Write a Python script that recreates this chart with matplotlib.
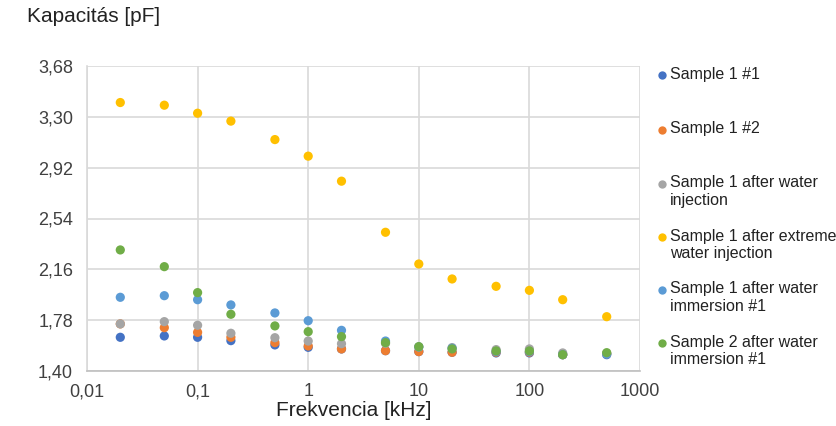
import numpy as np
import matplotlib.pyplot as plt
from matplotlib.lines import Line2D
from matplotlib.ticker import FuncFormatter, FixedLocator

plt.rcParams['font.family'] = ['Liberation Sans', 'DejaVu Sans']

# frequency [kHz]
freq = [0.02, 0.05, 0.1, 0.2, 0.5, 1, 2, 5, 10, 20, 50, 100, 200, 500]

# capacitance [pF] per series
s1_1 = [1.652, 1.662, 1.652, 1.627, 1.595, 1.577, 1.565, 1.552, 1.545, 1.540, 1.535, 1.535, 1.522, 1.522]
s1_2 = [1.752, 1.724, 1.689, 1.652, 1.612, 1.587, 1.565, 1.552, 1.545, 1.540, 1.540, 1.540, 1.522, 1.530]
s1_inj = [1.752, 1.769, 1.742, 1.682, 1.649, 1.624, 1.604, 1.607, 1.580, 1.575, 1.560, 1.565, 1.535, 1.530]
s1_ext = [3.407, 3.387, 3.327, 3.268, 3.130, 3.006, 2.819, 2.437, 2.200, 2.088, 2.033, 2.003, 1.933, 1.806]
s1_imm = [1.951, 1.963, 1.933, 1.894, 1.834, 1.776, 1.704, 1.624, 1.580, 1.570, 1.545, 1.545, 1.522, 1.527]
s2_imm = [2.305, 2.180, 1.986, 1.824, 1.737, 1.694, 1.657, 1.612, 1.582, 1.565, 1.550, 1.550, 1.522, 1.537]

labels = ["Sample 1 #1", "Sample 1 #2", "Sample 1 after water\ninjection",
          "Sample 1 after extreme\nwater injection", "Sample 1 after water\nimmersion #1",
          "Sample 2 after water\nimmersion #1"]
colors = ["#4472C4", "#ED7D31", "#A5A5A5", "#FFC000", "#5B9BD5", "#70AD47"]
series = [s1_1, s1_2, s1_inj, s1_ext, s1_imm, s2_imm]

yticks = [1.40, 1.78, 2.16, 2.54, 2.92, 3.30, 3.68]
xticks = [0.01, 0.1, 1, 10, 100, 1000]

fig = plt.figure(figsize=(8.37, 4.26), dpi=100)
ax = fig.add_axes([87/837, 1 - 371/426, (640 - 87)/837, (371 - 66)/426])

for vals, c in zip(series, colors):
    ax.scatter(freq, vals, s=44, color=c, edgecolors='none', zorder=3, clip_on=False)

ax.set_xscale('log')
ax.set_xlim(0.01, 1000)
ax.set_ylim(1.40, 3.68)
ax.xaxis.set_major_locator(FixedLocator(xticks))
ax.xaxis.set_minor_locator(FixedLocator([]))
ax.yaxis.set_major_locator(FixedLocator(yticks))
ax.xaxis.set_major_formatter(FuncFormatter(lambda v, p: ('%g' % v).replace('.', ',')))
ax.yaxis.set_major_formatter(FuncFormatter(lambda v, p: ('%.2f' % v).replace('.', ',')))
ax.tick_params(length=0, labelsize=13, colors='#404040')
ax.tick_params(axis='y', pad=10)
ax.tick_params(axis='x', pad=9)
ax.grid(True, color='#d9d9d9', linewidth=1.2)
ax.set_axisbelow(True)
for side in ['top', 'right']:
    ax.spines[side].set_visible(False)
ax.spines['left'].set_color('#d9d9d9')
ax.spines['bottom'].set_color('#bfbfbf')
ax.spines['left'].set_linewidth(1.2)
ax.spines['bottom'].set_linewidth(1.2)

ax.set_xlabel("Frekvencia [kHz]", fontsize=15, color='#222222')
ax.xaxis.label.set_va('center')
ax.xaxis.set_label_coords((353.5 - 87)/553, (371 - 410)/305)
fig.text(27/837, 1 - 16/426, "Kapacitás [pF]", fontsize=15, color='#222222', va='center', ha='left')

# legend drawn entry by entry, first-line centres as in the reference
leg_y = [75, 130, 184, 237, 290, 343]
for lab, c, y in zip(labels, colors, leg_y):
    fig.add_artist(Line2D([662/837], [1 - y/426], transform=fig.transFigure, marker='o',
                          markersize=6, markerfacecolor=c, markeredgecolor='none', linestyle='none'))
    fig.text(670/837, 1 - (y - 8.5)/426, lab, fontsize=11.5, color='#222222',
             va='top', ha='left', linespacing=1.2)

fig.savefig("out.png", dpi=100)
